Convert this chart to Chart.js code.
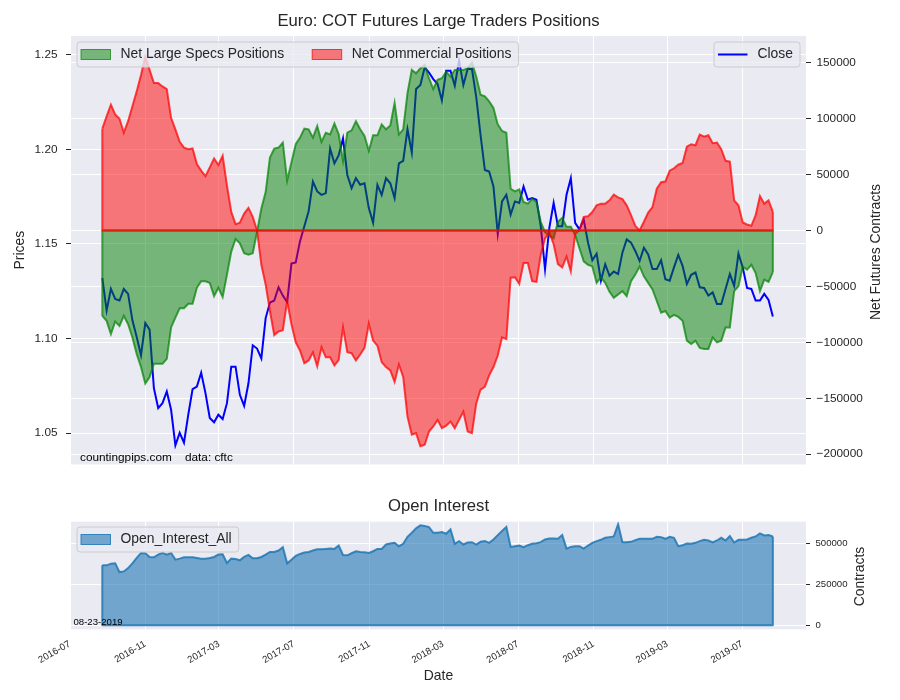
<!DOCTYPE html>
<html>
<head>
<meta charset="utf-8">
<title>Euro: COT Futures Large Traders Positions</title>
<script src="https://cdn.jsdelivr.net/npm/chart.js@4.4.1/dist/chart.umd.min.js"></script>
<style>
  html, body { margin: 0; padding: 0; background: #ffffff; }
  #wrap { position: relative; width: 900px; height: 700px; }
  canvas { position: absolute; left: 0; }
  #cot { top: 0; }
  #oi { top: 480px; }
</style>
</head>
<body>
<div id="wrap">
  <canvas id="cot" width="900" height="480"></canvas>
  <canvas id="oi" width="900" height="220"></canvas>
</div>
<script>
// weekly COT reports, first one 2016-08-23, last one 2019-08-20
const firstReport = '2016-08-23';
const axisStart = '2016-07-03';
const axisEnd = '2019-10-13';

const specsNet = [
  -76400, -80800, -92600, -81400, -85300, -76400, -83800, -95600, -110300, -122100,
  -136900, -131000, -119200, -119200, -119200, -114800, -86700, -77900, -69600, -69600,
  -65500, -65500, -51300, -45400, -45400, -46900, -58700, -51300, -59600, -39500,
  -18900, -7700, -11500, -20400, -21800, -20400, -1200, 19500, 34200, 65200,
  73000, 74000, 78500, 44500, 60800, 77000, 82900, 90900, 90300, 82900,
  93200, 79100, 87300, 85800, 95600, 85800, 62200, 87300, 89400, 97600,
  90300, 84400, 71100, 85000, 85000, 94700, 90300, 93800, 113900, 85800,
  90300, 122700, 143400, 140400, 144800, 147800, 136000, 126300, 134500, 136000,
  141900, 137400, 143400, 143400, 143400, 144800, 149900, 137400, 121200, 119800,
  115300, 109400, 94700, 88800, 87300, 37200, 34800, 36600, 25400, 23900,
  28300, 25400, 7700, -1800, -4700, -7100, 7700, 11200, 3200, 3200,
  -4100, -15900, -27700, -30700, -32200, -46900, -41900, -46900, -54900, -60200,
  -57200, -54300, -58700, -45400, -39500, -32200, -41000, -46900, -52800, -63100,
  -73500, -72000, -77900, -75500, -77300, -80800, -98500, -101500, -98500, -105000,
  -105900, -105900, -95600, -100000, -98500, -86700, -86700, -54300, -49900, -32200,
  -35100, -30700, -38100, -54300, -44000, -46000, -37200
];

const commercialNet = [
  90900, 102000, 112400, 103500, 99700, 87300, 97600, 110900, 124200, 138900,
  155200, 143400, 131600, 131600, 128600, 126300, 100600, 90300, 79100, 74000,
  72600, 73200, 59300, 53400, 48400, 56300, 64300, 58400, 66700, 40100,
  16500, 5600, 6800, 15000, 20100, 12100, 0, -30700, -48400, -72000,
  -93500, -90300, -89100, -63100, -83800, -100000, -107400, -118600, -116200, -108900,
  -121500, -104400, -113300, -113300, -120700, -115600, -86700, -108900, -109700, -116200,
  -110900, -105000, -83200, -98500, -103000, -117700, -122100, -125100, -135400, -119800,
  -131000, -166400, -182600, -181100, -192900, -191500, -179700, -175200, -169300, -176700,
  -174500, -170800, -176700, -169300, -162000, -179700, -181100, -154600, -142200, -139800,
  -129500, -122100, -111800, -95600, -97100, -42200, -41900, -47800, -29200, -29200,
  -45400, -46000, -21800, -7100, -1800, -12400, -30100, -33000, -23300, -36600,
  -3500, 300, 12100, 12700, 16500, 22400, 23900, 23900, 26800, 31900,
  29500, 28000, 22400, 13600, 4100, 0, 7700, 15900, 20900, 37200,
  43100, 43700, 53400, 55500, 58700, 60200, 74900, 77000, 76100, 85600,
  83800, 85000, 77900, 78500, 72600, 62200, 61400, 26800, 22400, 7100,
  5300, 4100, 13600, 30700, 23900, 26800, 16500
];

const closePrice = [
  1.1320, 1.1148, 1.1262, 1.1209, 1.1201, 1.1262, 1.1236, 1.1096, 1.1008, 1.0912,
  1.1082, 1.1047, 1.0737, 1.0632, 1.0658, 1.0720, 1.0623, 1.0435, 1.0501, 1.0449,
  1.0597, 1.0732, 1.0746, 1.0819, 1.0711, 1.0580, 1.0557, 1.0597, 1.0574, 1.0658,
  1.0851, 1.0851, 1.0702, 1.0644, 1.0763, 1.0964, 1.0947, 1.0895, 1.1108, 1.1190,
  1.1201, 1.1271, 1.1227, 1.1192, 1.1396, 1.1402, 1.1515, 1.1594, 1.1673, 1.1830,
  1.1778, 1.1760, 1.1769, 1.2005, 1.1926, 1.1970, 1.2058, 1.1865, 1.1795, 1.1848,
  1.1813, 1.1821, 1.1690, 1.1612, 1.1813, 1.1760, 1.1848, 1.1821, 1.1743, 1.1926,
  1.1939, 1.2106, 1.1984, 1.2320, 1.2341, 1.2434, 1.2407, 1.2372, 1.2346, 1.2259,
  1.2416, 1.2416, 1.2337, 1.2469, 1.2341, 1.2425, 1.2425, 1.2276, 1.2075, 1.1891,
  1.1883, 1.1804, 1.1554, 1.1725, 1.1760, 1.1655, 1.1725, 1.1717, 1.1804, 1.1734,
  1.1743, 1.1734, 1.1594, 1.1367, 1.1585, 1.1717, 1.1594, 1.1594, 1.1760, 1.1848,
  1.1612, 1.1577, 1.1629, 1.1507, 1.1414, 1.1449, 1.1306, 1.1393, 1.1332, 1.1354,
  1.1341, 1.1454, 1.1524, 1.1507, 1.1463, 1.1410, 1.1480, 1.1445, 1.1367, 1.1367,
  1.1414, 1.1314, 1.1306, 1.1376, 1.1442, 1.1384, 1.1288, 1.1337, 1.1349, 1.1271,
  1.1267, 1.1227, 1.1244, 1.1183, 1.1183, 1.1262, 1.1341, 1.1279, 1.1449, 1.1376,
  1.1267, 1.1262, 1.1201, 1.1201, 1.1236, 1.1204, 1.1117
];

const openInterest = [
  367700, 367700, 378100, 380100, 326400, 330600, 351200, 380100, 413200, 444200,
  442100, 419400, 417300, 433900, 444200, 433900, 444200, 402900, 409100, 417300,
  417300, 417300, 413200, 409100, 409100, 413200, 419400, 433900, 435900, 382200,
  409100, 407000, 398700, 419400, 431800, 411100, 411100, 419400, 433900, 450400,
  450400, 458700, 479300, 380100, 402900, 425600, 438000, 446300, 450400, 458700,
  466900, 466900, 469000, 471000, 469000, 489600, 431800, 429700, 442100, 454500,
  450400, 448300, 444200, 454500, 469000, 469000, 495800, 502000, 506200, 485500,
  500000, 543400, 568200, 595000, 613600, 609500, 603300, 568200, 568200, 572300,
  562000, 588800, 500000, 516500, 495800, 508200, 510300, 495800, 512400, 516500,
  506200, 526800, 553700, 578500, 603300, 481400, 485500, 489600, 479300, 491700,
  500000, 504100, 510300, 526800, 533000, 533000, 531000, 553700, 471000, 481400,
  485500, 485500, 471000, 489600, 506200, 516500, 524800, 537200, 541300, 545400,
  619800, 510300, 510300, 512400, 522700, 531000, 531000, 531000, 531000, 543400,
  541300, 531000, 543400, 537200, 485500, 491700, 502000, 500000, 506200, 516500,
  524800, 520600, 508200, 520600, 537200, 520600, 547500, 508200, 524800, 524800,
  526800, 537200, 545400, 564000, 551600, 553700, 545400
];

const monthTicks = ['2016-07', '2016-11', '2017-03', '2017-07', '2017-11', '2018-03',
  '2018-07', '2018-11', '2019-03', '2019-07'];
const priceTicks = [1.05, 1.10, 1.15, 1.20, 1.25];
const netTicks = [-200000, -150000, -100000, -50000, 0, 50000, 100000, 150000];
const oiTicks = [0, 250000, 500000];

const FONT = '"Liberation Sans", Arial, Helvetica, sans-serif';
const INK = '#262626';
const PLOT_BG = '#EAEAF2';

function toDay(iso) {
    let p = iso.split('-').map(Number);
    return Date.UTC(p[0], p[1] - 1, p[2] || 1) / 86400000;
}

function dayLabel(v) {
    let d = new Date(v * 86400000);
    return d.getUTCFullYear() + '-' + String(d.getUTCMonth() + 1).padStart(2, '0');
}

function signed(v) {
    return v < 0 ? '\u2212' + Math.abs(v) : String(v);
}

const reportDays = closePrice.map((_, i) => toDay(firstReport) + 7 * i);

function points(values) {
    return values.map((v, i) => ({ x: reportDays[i], y: v }));
}

function fixedTicks(list) {
    return scale => { scale.ticks = list.map(v => ({ value: v })); };
}

function dateAxis(showLabels, height) {
    return {
        type: 'linear',
        min: toDay(axisStart),
        max: toDay(axisEnd),
        afterBuildTicks: fixedTicks(monthTicks.map(m => toDay(m))),
        afterFit: s => { s.height = height; },
        border: { display: false },
        grid: { color: '#ffffff', lineWidth: 1, drawTicks: false },
        ticks: {
            display: showLabels,
            autoSkip: false,
            minRotation: 30,
            maxRotation: 30,
            padding: 9,
            color: INK,
            font: { family: FONT, size: 9.6 },
            callback: v => dayLabel(v)
        },
        title: {
            display: showLabels,
            text: 'Date',
            color: INK,
            font: { family: FONT, size: 13.9 },
            padding: { top: 0, bottom: 15 }
        }
    };
}

const plotBackground = {
    id: 'plotBackground',
    beforeDraw(chart) {
        let a = chart.chartArea, ctx = chart.ctx;
        ctx.save();
        ctx.fillStyle = PLOT_BG;
        ctx.fillRect(a.left, a.top, a.width, a.height);
        ctx.restore();
    }
};

// close the fill_between outline: ends and the zero baseline
const fillEdges = {
    id: 'fillEdges',
    afterDatasetDraw(chart, args, opts) {
        if (!(opts.datasets || []).includes(args.index)) return;
        let pts = args.meta.data;
        if (!pts.length) return;
        let ds = chart.data.datasets[args.index];
        let y0 = chart.scales[args.meta.yAxisID].getPixelForValue(0);
        let a = pts[0], b = pts[pts.length - 1];
        let ctx = chart.ctx;
        ctx.save();
        ctx.strokeStyle = ds.borderColor;
        ctx.lineWidth = ds.borderWidth;
        ctx.lineJoin = 'round';
        ctx.beginPath();
        ctx.moveTo(a.x, a.y);
        ctx.lineTo(a.x, y0);
        ctx.lineTo(b.x, y0);
        ctx.lineTo(b.x, b.y);
        ctx.stroke();
        ctx.restore();
    }
};

const boxLegends = {
    id: 'boxLegends',
    afterDraw(chart, args, opts) {
        let ctx = chart.ctx;
        ctx.save();
        ctx.font = '13.9px ' + FONT;
        ctx.textBaseline = 'middle';
        opts.boxes.forEach(box => {
            let items = box.items.map(i => {
                let ds = chart.data.datasets[i];
                return { ds: ds, w: ctx.measureText(ds.label).width };
            });
            let width = 4 + 7;
            items.forEach((it, k) => { width += 29.5 + 10 + it.w + (k ? 28 : 0); });
            let left = box.align === 'right' ? box.x - width : box.x;
            let top = box.y, h = box.h, r = 3;
            ctx.beginPath();
            ctx.moveTo(left + r, top);
            ctx.arcTo(left + width, top, left + width, top + h, r);
            ctx.arcTo(left + width, top + h, left, top + h, r);
            ctx.arcTo(left, top + h, left, top, r);
            ctx.arcTo(left, top, left + width, top, r);
            ctx.closePath();
            ctx.fillStyle = 'rgba(234,234,242,0.8)';
            ctx.fill();
            ctx.strokeStyle = '#cccccc';
            ctx.lineWidth = 1;
            ctx.stroke();
            let x = left + 4, cy = top + h / 2;
            items.forEach(it => {
                if (it.ds.fill) {
                    ctx.fillStyle = it.ds.backgroundColor;
                    ctx.fillRect(x, cy - 5, 29.5, 10);
                    ctx.strokeStyle = it.ds.borderColor;
                    ctx.lineWidth = 1;
                    ctx.strokeRect(x, cy - 5, 29.5, 10);
                } else {
                    ctx.strokeStyle = it.ds.borderColor;
                    ctx.lineWidth = it.ds.borderWidth;
                    ctx.beginPath();
                    ctx.moveTo(x, cy);
                    ctx.lineTo(x + 29.5, cy);
                    ctx.stroke();
                }
                ctx.fillStyle = INK;
                ctx.fillText(it.ds.label, x + 29.5 + 10, cy);
                x += 29.5 + 10 + it.w + 28;
            });
        });
        ctx.restore();
    }
};

const figureTexts = {
    id: 'figureTexts',
    afterDraw(chart, args, opts) {
        let ctx = chart.ctx, a = chart.chartArea;
        opts.items.forEach(t => {
            ctx.save();
            ctx.translate(t.x === 'plot' ? (a.left + a.right) / 2 : t.x, t.y);
            if (t.rotate) ctx.rotate(t.rotate);
            ctx.font = t.font;
            ctx.fillStyle = t.color || INK;
            ctx.textAlign = t.align || 'left';
            ctx.textBaseline = t.baseline || 'alphabetic';
            ctx.fillText(t.text, 0, 0);
            ctx.restore();
        });
    }
};

new Chart(document.getElementById('cot'), {
    type: 'line',
    data: {
        datasets: [{
            label: 'Net Large Specs Positions',
            data: points(specsNet),
            yAxisID: 'net',
            fill: 'origin',
            backgroundColor: 'rgba(0,128,0,0.5)',
            borderColor: 'rgba(0,128,0,0.7)',
            borderWidth: 2,
            pointRadius: 0,
            order: 2
        }, {
            label: 'Net Commercial Positions',
            data: points(commercialNet),
            yAxisID: 'net',
            fill: 'origin',
            backgroundColor: 'rgba(255,0,0,0.5)',
            borderColor: 'rgba(255,0,0,0.72)',
            borderWidth: 2,
            pointRadius: 0,
            order: 1
        }, {
            label: 'Close',
            data: points(closePrice),
            yAxisID: 'price',
            fill: false,
            borderColor: '#0000ff',
            borderWidth: 2,
            pointRadius: 0,
            order: 3
        }]
    },
    options: {
        responsive: false,
        animation: false,
        events: [],
        layout: { padding: { top: 36 } },
        plugins: {
            legend: { display: false },
            tooltip: { enabled: false },
            fillEdges: { datasets: [0, 1] },
            boxLegends: {
                boxes: [
                    { x: 77, y: 42, h: 25, align: 'left', items: [0, 1] },
                    { x: 800, y: 42, h: 25, align: 'right', items: [2] }
                ]
            },
            figureTexts: {
                items: [
                    { text: 'Euro: COT Futures Large Traders Positions', x: 'plot', y: 21,
                      align: 'center', baseline: 'middle', font: '16.7px ' + FONT },
                    { text: 'countingpips.com    data: cftc', x: 80, y: 461,
                      font: '11.8px ' + FONT, color: '#000000' },
                    { text: 'Net Futures Contracts', x: 876, y: 252, rotate: -Math.PI / 2,
                      align: 'center', baseline: 'middle', font: '13.9px ' + FONT }
                ]
            }
        },
        scales: {
            x: dateAxis(false, 12),
            price: {
                type: 'linear',
                position: 'left',
                min: 1.0334,
                max: 1.26,
                afterBuildTicks: fixedTicks(priceTicks),
                afterFit: s => { s.width = 71; },
                border: { display: false },
                grid: { color: '#ffffff', lineWidth: 1, tickColor: INK, tickLength: 5 },
                ticks: {
                    color: INK,
                    padding: 8.5,
                    font: { family: FONT, size: 11.8 },
                    callback: v => v.toFixed(2)
                },
                title: {
                    display: true,
                    text: 'Prices',
                    color: INK,
                    font: { family: FONT, size: 13.9 },
                    padding: { top: 11.5, bottom: 0 }
                }
            },
            net: {
                type: 'linear',
                position: 'right',
                min: -209100,
                max: 173700,
                afterBuildTicks: fixedTicks(netTicks),
                afterFit: s => { s.width = 94; },
                border: { display: false },
                grid: { color: '#ffffff', lineWidth: 1, tickColor: INK, tickLength: 5 },
                ticks: {
                    color: INK,
                    padding: 5.5,
                    font: { family: FONT, size: 11.8 },
                    callback: v => signed(v)
                }
            }
        }
    },
    plugins: [plotBackground, fillEdges, boxLegends, figureTexts]
});

new Chart(document.getElementById('oi'), {
    type: 'line',
    data: {
        datasets: [{
            label: 'Open_Interest_All',
            data: points(openInterest),
            yAxisID: 'oi',
            fill: 'origin',
            backgroundColor: 'rgba(31,119,180,0.6)',
            borderColor: 'rgba(31,119,180,0.85)',
            borderWidth: 2,
            pointRadius: 0
        }]
    },
    options: {
        responsive: false,
        animation: false,
        events: [],
        layout: { padding: { top: 41.7, left: 71 } },
        plugins: {
            legend: { display: false },
            tooltip: { enabled: false },
            fillEdges: { datasets: [0] },
            boxLegends: {
                boxes: [{ x: 77, y: 47, h: 25, align: 'left', items: [0] }]
            },
            figureTexts: {
                items: [
                    { text: 'Open Interest', x: 'plot', y: 26,
                      align: 'center', baseline: 'middle', font: '16.7px ' + FONT },
                    { text: '08-23-2019', x: 73.5, y: 145, font: '9.6px ' + FONT, color: '#000000' },
                    { text: 'Contracts', x: 860, y: 96.5, rotate: -Math.PI / 2,
                      align: 'center', baseline: 'middle', font: '13.9px ' + FONT }
                ]
            }
        },
        scales: {
            x: dateAxis(true, 70.7),
            oi: {
                type: 'linear',
                position: 'right',
                min: -25000,
                max: 636000,
                afterBuildTicks: fixedTicks(oiTicks),
                afterFit: s => { s.width = 94; },
                border: { display: false },
                grid: { color: '#ffffff', lineWidth: 1, tickColor: INK, tickLength: 4 },
                ticks: {
                    color: INK,
                    padding: 5.5,
                    font: { family: FONT, size: 9.6 },
                    callback: v => String(v)
                }
            }
        }
    },
    plugins: [plotBackground, fillEdges, boxLegends, figureTexts]
});
</script>
</body>
</html>
